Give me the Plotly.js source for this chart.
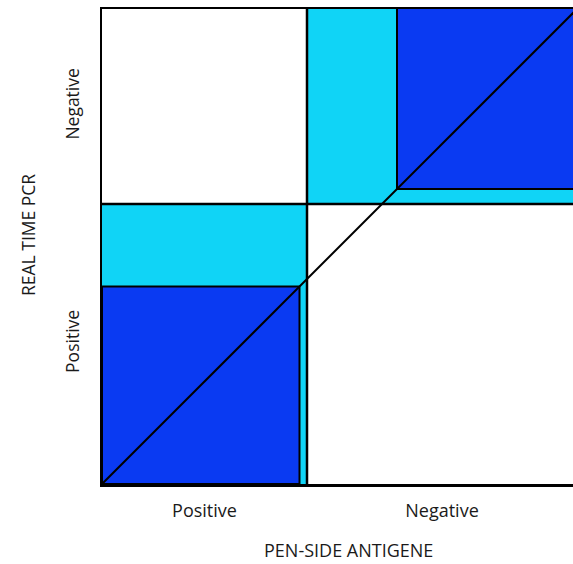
<!DOCTYPE html>
<html>
<head>
<meta charset="utf-8">
<script src="https://cdn.plot.ly/plotly-3.0.1.min.js"></script>
<style>html,body{margin:0;padding:0;background:#fff;}#chart{width:573px;height:564px;}</style>
</head>
<body>
<div id="chart"></div>
<script>
// Agreement chart data (Bangdiwala style)
const categories = ["Positive", "Negative"];
const rowTotals = [112, 78];      // REAL TIME PCR totals (Positive, Negative)
const colTotals = [82, 108];      // PEN-SIDE ANTIGENE totals (Positive, Negative)
const agreement = [79, 72];       // diagonal (agreeing) counts
const xTitle = "PEN-SIDE ANTIGENE";
const yTitle = "REAL TIME PCR";

const n = rowTotals.reduce((a, b) => a + b, 0);
const darkBlue = "#0a3af2";
const cyan = "#10d4f6";

const shapes = [];
let cx = 0, cy = 0;
const xCenters = [], yCenters = [];
for (let i = 0; i < categories.length; i++) {
  const x0 = cx, x1 = cx + colTotals[i];
  const y0 = cy, y1 = cy + rowTotals[i];
  xCenters.push((x0 + x1) / 2);
  yCenters.push((y0 + y1) / 2);
  shapes.push({type: "rect", xref: "x", yref: "y", x0: x0, x1: x1, y0: y0, y1: y1,
    fillcolor: cyan, line: {width: 0}, layer: "above"});
  cx = x1; cy = y1;
}
const a0 = agreement[0], a1 = agreement[1];
shapes.push({type: "rect", xref: "x", yref: "y", x0: 0, x1: a0, y0: 0, y1: a0,
  fillcolor: darkBlue, line: {color: "#000", width: 2}, layer: "above"});
shapes.push({type: "rect", xref: "x", yref: "y", x0: n - a1, x1: n + 5, y0: n - a1, y1: n + 5,
  fillcolor: darkBlue, line: {color: "#000", width: 2}, layer: "above"});
shapes.push({type: "line", xref: "x", yref: "y", x0: colTotals[0], x1: colTotals[0], y0: 0, y1: n,
  line: {color: "#000", width: 2.5}, layer: "above"});
shapes.push({type: "line", xref: "x", yref: "y", x0: 0, x1: n + 5, y0: rowTotals[0], y1: rowTotals[0],
  line: {color: "#000", width: 2.5}, layer: "above"});
shapes.push({type: "line", xref: "x", yref: "y", x0: 0, x1: n, y0: 0, y1: n,
  line: {color: "#000", width: 2}, layer: "above"});

const W = 573, H = 564;
const ml = 102, mt = 9, mb = 80;
const plotH = H - mt - mb;
const plotW = W - ml;
const xMax = n * plotW / plotH;

const data = [{x: [0], y: [0], type: "scatter", mode: "markers",
  marker: {opacity: 0}, hoverinfo: "skip", showlegend: false}];

const layout = {
  width: W, height: H,
  margin: {l: ml, r: 0, t: mt, b: mb},
  paper_bgcolor: "#fff", plot_bgcolor: "#fff",
  showlegend: false,
  font: {family: "Open Sans, sans-serif", color: "#1a1a1a"},
  xaxis: {range: [0, xMax], showgrid: false, zeroline: false,
    showline: true, mirror: true, linecolor: "#000", linewidth: 2.5,
    tickmode: "array", tickvals: xCenters, ticktext: categories,
    ticks: "", ticklabelstandoff: 9, tickfont: {size: 18, color: "#1a1a1a"}},
  yaxis: {range: [0, n], showgrid: false, zeroline: false,
    showline: true, mirror: false, linecolor: "#000", linewidth: 2.5,
    tickmode: "array", tickvals: yCenters, ticktext: categories, tickangle: -90,
    ticks: "", ticklabelstandoff: 14, tickfont: {size: 17.5, color: "#1a1a1a"}},
  shapes: shapes,
  annotations: [
    {text: xTitle, xref: "paper", yref: "paper", x: (348 - ml) / plotW, y: -(550 - (mt + plotH)) / plotH,
      xanchor: "center", yanchor: "middle", showarrow: false, font: {size: 18, color: "#1a1a1a"}},
    {text: yTitle, xref: "paper", yref: "paper", x: (28 - ml) / plotW, y: ((mt + plotH) - 235) / plotH,
      xanchor: "center", yanchor: "middle", textangle: -90, showarrow: false, font: {size: 17.5, color: "#1a1a1a"}}
  ]
};

Plotly.newPlot("chart", data, layout, {staticPlot: true, displayModeBar: false});
</script>
</body>
</html>
